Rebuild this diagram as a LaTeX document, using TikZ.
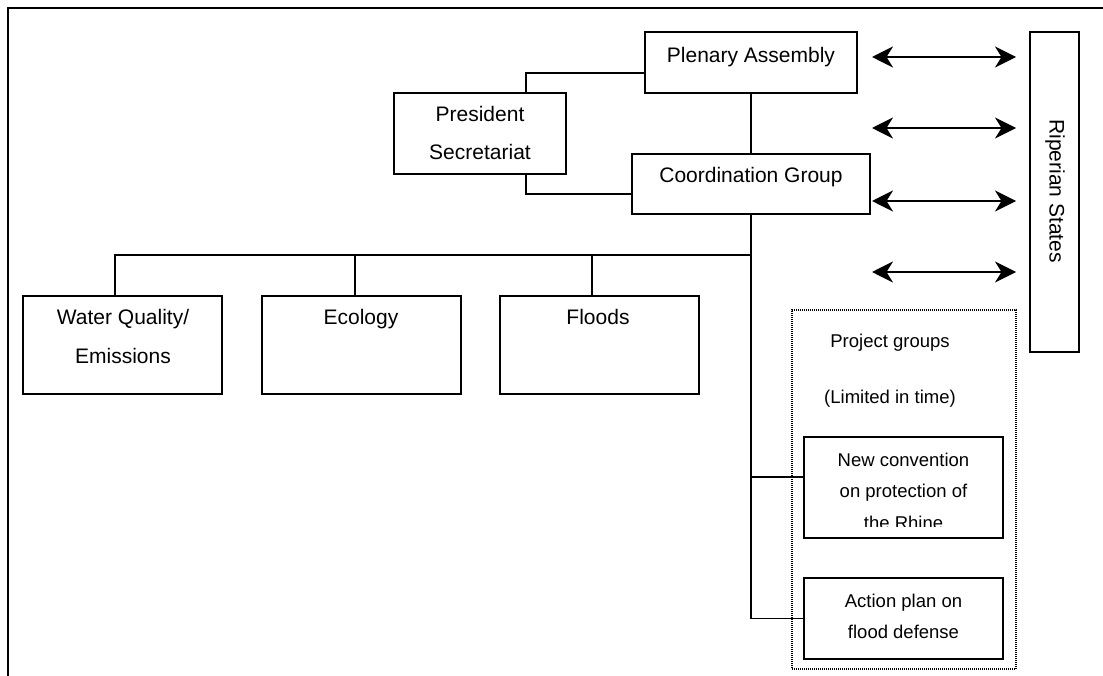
\documentclass[tikz,border=0pt]{standalone}
\usepackage{fontspec}
\setmainfont{Liberation Sans}
\usetikzlibrary{arrows.meta}

\begin{document}
\begin{tikzpicture}[x=1pt, y=-1pt,
  box/.style={draw, line width=1.5pt, inner sep=0pt},
  pgbox/.style={draw, line width=1.2pt, dash pattern=on 1pt off 1pt, inner sep=0pt},
  link/.style={line width=1.5pt},
  twoway/.style={line width=2pt, {Stealth[length=21pt,width=21pt,inset=6.5pt]}-{Stealth[length=21pt,width=21pt,inset=6.5pt]}},
  big/.style={font=\fontsize{21pt}{25pt}\selectfont, inner sep=0pt, anchor=base},
  small/.style={font=\fontsize{18.5pt}{22pt}\selectfont, inner sep=0pt, anchor=base}
]
\useasboundingbox (0,0) rectangle (1103,676);

% outer frame (top and left edges)
\coordinate (frameTR) at (1103,8);
\coordinate (frameTL) at (8,8);
\coordinate (frameBL) at (8,676);
\draw[line width=2.2pt] (frameTR) -- (frameTL) -- (frameBL);

% boxes
\node[box, minimum width=212pt, minimum height=61pt] (pa) at (751,62.5) {};
\node[box, minimum width=172pt, minimum height=81pt] (ps) at (480,133.5) {};
\node[box, minimum width=238pt, minimum height=60pt] (cg) at (751,184) {};
\node[box, minimum width=199pt, minimum height=98pt] (wq) at (122.5,345) {};
\node[box, minimum width=199pt, minimum height=98pt] (eco) at (361.5,345) {};
\node[box, minimum width=199pt, minimum height=98pt] (fl) at (599.5,345) {};
\node[box, minimum width=49pt, minimum height=320pt] (rs) at (1054.5,192) {};
\node[pgbox, minimum width=224pt, minimum height=359pt] (pg) at (904,489.5) {};
\node[box, minimum width=199pt, minimum height=101pt] (nc) at (903.5,487.5) {};
\node[box, minimum width=199pt, minimum height=81pt] (ap) at (903.5,618.5) {};

% labels
\node[big] (paT) at (751,63) {Plenary Assembly};
\node[big] (psT1) at (480,122) {President};
\node[big] (psT2) at (480,160) {Secretariat};
\node[big] (cgT) at (751,183) {Coordination Group};
\node[big] (wqT1) at (123,325) {Water Quality/};
\node[big] (wqT2) at (123,363) {Emissions};
\node[big] (ecoT) at (361,325) {Ecology};
\node[big] (flT) at (598,325) {Floods};
\node[big, anchor=center, rotate=-90] (rsT) at (1055,191) {Riperian States};
\node[small] (pgT1) at (890,348) {Project groups};
\node[small] (pgT2) at (890,403) {(Limited in time)};
\node[small] (ncT1) at (903.5,466) {New convention};
\node[small] (ncT2) at (903.5,497) {on protection of};
\begin{scope}
  \clip (nc.north west) rectangle (nc.east |- 0,526);
  \node[small] (ncT3) at (903.5,529) {the Rhine};
\end{scope}
\node[small] (apT1) at (903.5,607) {Action plan on};
\node[small] (apT2) at (903.5,638) {flood defense};

% hierarchy connectors
\draw[link] ([yshift=-10.5pt]pa.west) -| ([xshift=46pt]ps.north);
\draw[link] ([xshift=46pt]ps.south) |- ([yshift=-10pt]cg.west);
\draw[link] (pa.south) -- (cg.north);
\coordinate (bus) at (cg.south |- 0,255);
\draw[link] (cg.south) |- (ap.west);
\coordinate (ncin) at ([yshift=10.5pt]nc.west);
\draw[link] (ncin) -- (cg.south |- ncin);
\draw[link] ([xshift=-7.5pt]wq.north) |- (bus);
\draw[link] ([xshift=-6.5pt]eco.north) -- ([xshift=-6.5pt]eco.north |- bus);
\draw[link] ([xshift=-7.5pt]fl.north) -- ([xshift=-7.5pt]fl.north |- bus);

% exchanges with the riparian states
\foreach \i/\yy in {1/57, 2/128, 3/201, 4/272} {
  \coordinate (al\i) at (872,\yy);
  \coordinate (ar\i) at (1016,\yy);
  \draw[twoway] (al\i) -- (ar\i);
}
\end{tikzpicture}
\end{document}
